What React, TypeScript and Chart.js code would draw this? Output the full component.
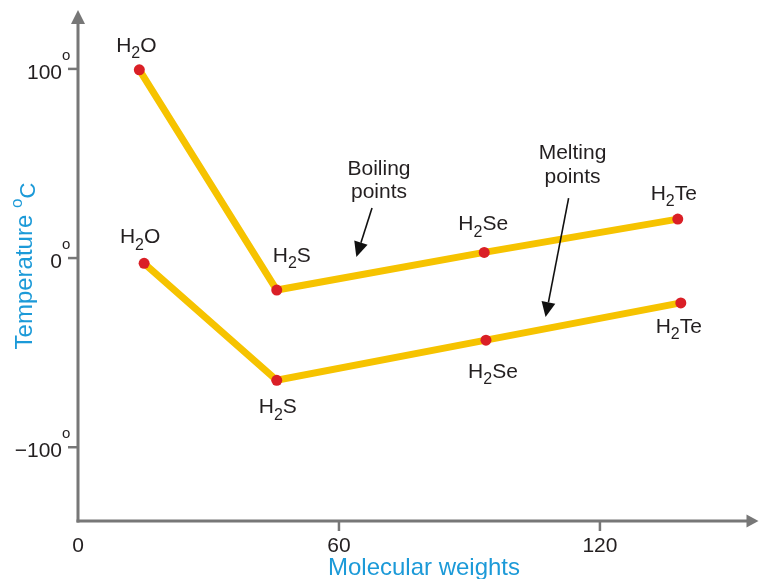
import React, { useEffect, useRef } from "react";
import { Chart, registerables } from "chart.js";

Chart.register(...registerables);

// ---- data ----
const compounds = ["H2O", "H2S", "H2Se", "H2Te"];
const boilingX = [14.1, 45.7, 93.4, 137.9];
const boilingY = [99.5, -16.9, 3.0, 20.6];
const meltingX = [15.2, 45.7, 93.8, 138.6];
const meltingY = [-2.8, -64.6, -43.4, -23.7];
const xTicks = [0, 60, 120];
const yTicks = [100, 0, -100];
const xTitle = "Molecular weights";
const yTitle = "Temperature ";
const yUnit = "C";
const boilingNote = ["Boiling", "points"];
const meltingNote = ["Melting", "points"];

// ---- layout / style ----
const X_MIN = 0;
const X_MAX = 156;
const Y_MIN = -139;
const Y_MAX = 128.5;
const FONT = "'Liberation Sans', Arial, Helvetica, sans-serif";
const AXIS_COLOR = "#777777";
const LINE_COLOR = "#F6C300";
const DOT_COLOR = "#DA1F26";
const TITLE_COLOR = "#1C9AD8";
const TEXT_COLOR = "#231F20";
// label offsets in px (label centre x, baseline y) relative to each point
const boilLabelOffsets = [[-3, -18], [15, -28], [-1, -22], [-4, -19]];
const meltLabelOffsets = [[-4, -20], [1, 33], [7, 38], [-2, 30]];
// annotation anchors in data units
const boilNotePos = [69.2, 43.9];
const boilArrow = [[67.6, 26.5], [64.0, 0.6]];
const meltNotePos = [113.7, 52.4];
const meltArrow = [[112.8, 31.7], [107.5, -31.2]];

function drawFormula(ctx: CanvasRenderingContext2D, text: string, cx: number, baseline: number, size: number) {
  const subSize = Math.round(size * 0.74);
  const parts: { t: string; sub: boolean }[] = [];
  for (const ch of text) {
    const sub = /[0-9]/.test(ch);
    const last = parts[parts.length - 1];
    if (last && last.sub === sub) last.t += ch;
    else parts.push({ t: ch, sub });
  }
  let total = 0;
  const widths: number[] = [];
  for (const p of parts) {
    ctx.font = `${p.sub ? subSize : size}px ${FONT}`;
    const w = ctx.measureText(p.t).width;
    widths.push(w);
    total += w;
  }
  let x = cx - total / 2;
  ctx.textAlign = "left";
  ctx.textBaseline = "alphabetic";
  ctx.fillStyle = TEXT_COLOR;
  parts.forEach((p, i) => {
    ctx.font = `${p.sub ? subSize : size}px ${FONT}`;
    ctx.fillText(p.t, x, baseline + (p.sub ? size * 0.3 : 0));
    x += widths[i];
  });
}

function drawArrow(ctx: CanvasRenderingContext2D, x1: number, y1: number, x2: number, y2: number) {
  const ang = Math.atan2(y2 - y1, x2 - x1);
  const headLen = 15;
  const headW = 7;
  const bx = x2 - headLen * Math.cos(ang);
  const by = y2 - headLen * Math.sin(ang);
  ctx.strokeStyle = "#111";
  ctx.lineWidth = 1.6;
  ctx.beginPath();
  ctx.moveTo(x1, y1);
  ctx.lineTo(bx, by);
  ctx.stroke();
  ctx.fillStyle = "#111";
  ctx.beginPath();
  ctx.moveTo(x2, y2);
  ctx.lineTo(bx + headW * Math.sin(ang), by - headW * Math.cos(ang));
  ctx.lineTo(bx - headW * Math.sin(ang), by + headW * Math.cos(ang));
  ctx.closePath();
  ctx.fill();
}

const decorPlugin = {
  id: "decor",
  beforeDatasetsDraw(chart: any) {
    const ctx: CanvasRenderingContext2D = chart.ctx;
    const xs = chart.scales.x;
    const ys = chart.scales.y;
    const ax = xs.getPixelForValue(X_MIN);
    const ay = ys.getPixelForValue(Y_MIN);
    const top = ys.getPixelForValue(Y_MAX);
    const right = xs.getPixelForValue(X_MAX);
    ctx.save();
    ctx.strokeStyle = AXIS_COLOR;
    ctx.fillStyle = AXIS_COLOR;
    ctx.lineWidth = 3;
    ctx.lineCap = "butt";
    // y axis
    ctx.beginPath();
    ctx.moveTo(ax, ay + 1.5);
    ctx.lineTo(ax, top + 8);
    ctx.stroke();
    ctx.beginPath();
    ctx.moveTo(ax, top - 5);
    ctx.lineTo(ax - 7, top + 9);
    ctx.lineTo(ax + 7, top + 9);
    ctx.closePath();
    ctx.fill();
    // x axis
    ctx.beginPath();
    ctx.moveTo(ax - 1.5, ay);
    ctx.lineTo(right - 8, ay);
    ctx.stroke();
    ctx.beginPath();
    ctx.moveTo(right + 2, ay);
    ctx.lineTo(right - 10, ay - 6.5);
    ctx.lineTo(right - 10, ay + 6.5);
    ctx.closePath();
    ctx.fill();
    // y ticks
    ctx.lineWidth = 2.5;
    yTicks.forEach((v) => {
      const py = ys.getPixelForValue(v);
      ctx.strokeStyle = AXIS_COLOR;
      ctx.beginPath();
      ctx.moveTo(ax - 10, py);
      ctx.lineTo(ax, py);
      ctx.stroke();
      ctx.fillStyle = TEXT_COLOR;
      ctx.font = `21px ${FONT}`;
      ctx.textAlign = "right";
      ctx.textBaseline = "alphabetic";
      const label = v < 0 ? "\u2212" + Math.abs(v) : String(v);
      ctx.fillText(label, ax - 16, py + 10);
      ctx.font = `15px ${FONT}`;
      ctx.textAlign = "left";
      ctx.fillText("o", ax - 16, py - 9);
    });
    // x ticks
    xTicks.forEach((v) => {
      const px = xs.getPixelForValue(v);
      if (v !== X_MIN) {
        ctx.strokeStyle = AXIS_COLOR;
        ctx.beginPath();
        ctx.moveTo(px, ay);
        ctx.lineTo(px, ay + 10);
        ctx.stroke();
      }
      ctx.fillStyle = TEXT_COLOR;
      ctx.font = `21px ${FONT}`;
      ctx.textAlign = "center";
      ctx.textBaseline = "alphabetic";
      ctx.fillText(String(v), px, ay + 31);
    });
    // x title
    ctx.fillStyle = TITLE_COLOR;
    ctx.font = `24px ${FONT}`;
    ctx.textAlign = "center";
    ctx.fillText(xTitle, 424, ay + 54);
    // y title (rotated)
    ctx.save();
    ctx.translate(32, ys.getPixelForValue(0) + 8);
    ctx.rotate(-Math.PI / 2);
    ctx.font = `24px ${FONT}`;
    const w1 = ctx.measureText(yTitle).width;
    ctx.font = `17px ${FONT}`;
    const w2 = ctx.measureText("o").width;
    ctx.font = `22px ${FONT}`;
    const w3 = ctx.measureText(yUnit).width;
    let x0 = -(w1 + w2 + w3) / 2;
    ctx.textAlign = "left";
    ctx.fillStyle = TITLE_COLOR;
    ctx.font = `24px ${FONT}`;
    ctx.fillText(yTitle, x0, 0);
    x0 += w1;
    ctx.font = `17px ${FONT}`;
    ctx.fillText("o", x0, -10);
    x0 += w2;
    ctx.font = `22px ${FONT}`;
    ctx.fillText(yUnit, x0, 3);
    ctx.restore();
    ctx.restore();
  },
  afterDatasetsDraw(chart: any) {
    const ctx: CanvasRenderingContext2D = chart.ctx;
    const xs = chart.scales.x;
    const ys = chart.scales.y;
    ctx.save();
    compounds.forEach((c, i) => {
      const bx = xs.getPixelForValue(boilingX[i]);
      const by = ys.getPixelForValue(boilingY[i]);
      drawFormula(ctx, c, bx + boilLabelOffsets[i][0], by + boilLabelOffsets[i][1], 21);
      const mx = xs.getPixelForValue(meltingX[i]);
      const my = ys.getPixelForValue(meltingY[i]);
      drawFormula(ctx, c, mx + meltLabelOffsets[i][0], my + meltLabelOffsets[i][1], 21);
    });
    // annotations
    ctx.fillStyle = TEXT_COLOR;
    ctx.font = `21px ${FONT}`;
    ctx.textAlign = "center";
    ctx.textBaseline = "alphabetic";
    const bnx = xs.getPixelForValue(boilNotePos[0]);
    const bny = ys.getPixelForValue(boilNotePos[1]);
    boilingNote.forEach((t, k) => ctx.fillText(t, bnx, bny + k * 23));
    const mnx = xs.getPixelForValue(meltNotePos[0]);
    const mny = ys.getPixelForValue(meltNotePos[1]);
    meltingNote.forEach((t, k) => ctx.fillText(t, mnx, mny + k * 24));
    drawArrow(
      ctx,
      xs.getPixelForValue(boilArrow[0][0]), ys.getPixelForValue(boilArrow[0][1]),
      xs.getPixelForValue(boilArrow[1][0]), ys.getPixelForValue(boilArrow[1][1])
    );
    drawArrow(
      ctx,
      xs.getPixelForValue(meltArrow[0][0]), ys.getPixelForValue(meltArrow[0][1]),
      xs.getPixelForValue(meltArrow[1][0]), ys.getPixelForValue(meltArrow[1][1])
    );
    ctx.restore();
  },
};

export default function App() {
  const ref = useRef<HTMLCanvasElement>(null);
  useEffect(() => {
    if (!ref.current) return;
    const toPts = (xs: number[], ys: number[]) => xs.map((x, i) => ({ x, y: ys[i] }));
    const ds = (label: string, data: any) => ({
      label,
      data,
      borderColor: LINE_COLOR,
      borderWidth: 7,
      borderJoinStyle: "miter" as const,
      pointRadius: 5.5,
      pointBackgroundColor: DOT_COLOR,
      pointBorderWidth: 0,
      pointHoverRadius: 5.5,
      fill: false,
      tension: 0,
      clip: false as any,
    });
    const chart = new Chart(ref.current, {
      type: "line",
      data: {
        datasets: [
          ds("Boiling points", toPts(boilingX, boilingY)),
          ds("Melting points", toPts(meltingX, meltingY)),
        ],
      },
      options: {
        animation: false,
        responsive: false,
        devicePixelRatio: 1,
        layout: { padding: { left: 78, top: 15, right: 2, bottom: 58 } },
        plugins: { legend: { display: false }, tooltip: { enabled: false } },
        events: [],
        scales: {
          x: { type: "linear", min: X_MIN, max: X_MAX, display: false },
          y: { type: "linear", min: Y_MIN, max: Y_MAX, display: false },
        },
      },
      plugins: [decorPlugin],
    });
    return () => chart.destroy();
  }, []);
  return (
    <div style={{ position: "absolute", left: 0, top: 0, width: 762, height: 579, background: "#fff" }}>
      <canvas ref={ref} width={762} height={579} style={{ display: "block", width: 762, height: 579 }} />
    </div>
  );
}
